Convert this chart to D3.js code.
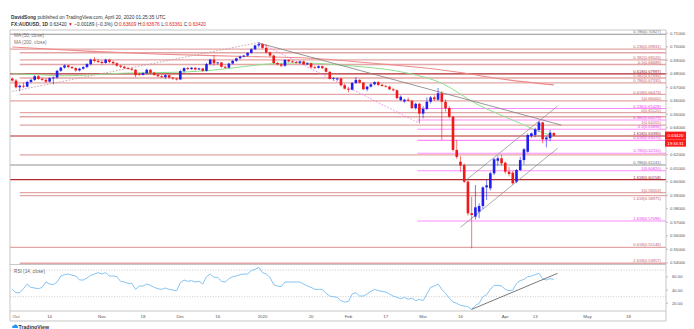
<!DOCTYPE html>
<html><head><meta charset="utf-8">
<script src="https://cdn.jsdelivr.net/npm/d3@7"></script>
<style>
body{margin:0;background:#fff;}
svg{display:block;font-family:"Liberation Sans",Arial,sans-serif;}
</style>
</head><body>
<svg id="c" width="694" height="329"></svg>
<script>
// ---------- DATA ----------
const firstDay = "2019-09-30";
const lastCalendarDay = "2020-06-30";
const open = [.6765,.6750,.6700,.6712,.6705,.6740,.6755,.6782,.6762,.6755,.6742,.6768,.6772,.6822,.6846,.6862,.6850,.6842,.6825,.6838,.6850,.6872,.6905,.6895,.6888,.6880,.6905,.6888,.6878,.6860,
.6852,.6842,.6838,.6830,.6798,.6792,.6805,.6830,.6808,.6792,.6782,.6775,.6790,.6772,.6765,.6758,.6820,.6842,.6835,.6845,.6832,.6840,.6822,.6872,.6905,.6878,.6884,.6852,.6845,.6876,
.6896,.6915,.6928,.6935,.6955,.6982,.7010,.7020,.6992,.6958,.6935,.6880,.6870,.6860,.6902,.6892,.6886,.6882,.6892,.6870,.6878,.6848,.6844,.6856,.6842,.6815,.6762,.6758,.6765,.6715,
.6690,.6682,.6732,.6755,.6735,.6685,.6705,.6722,.6738,.6718,.6710,.6705,.6685,.6678,.6605,.6595,.6608,.6600,.6545,.6578,.6505,.6540,.6593,.6625,.6608,.6656,.6593,.6547,.6482,.6236,
.6149,.6124,.6001,.5767,.5742,.5779,.5821,.5959,.5952,.6063,.6156,.6174,.6141,.6075,.6067,.6001,.6087,.6161,.6223,.6339,.6347,.6384,.6440,.6315,.6323,.63609];
const high = [.6775,.6760,.6720,.6735,.6748,.6762,.6790,.6790,.6772,.6768,.6775,.6780,.6830,.6852,.6870,.6868,.6858,.6850,.6845,.6856,.6878,.6912,.6925,.6910,.6900,.6912,.6912,.6898,.6885,.6866,
.6860,.6852,.6845,.6835,.6808,.6812,.6838,.6835,.6815,.6800,.6790,.6795,.6792,.6778,.6770,.6830,.6848,.6852,.6850,.6848,.6845,.6842,.6880,.6912,.6939,.6888,.6888,.6860,.6882,.6902,
.6920,.6935,.6940,.6960,.6990,.7015,.7032,.7025,.7016,.6965,.6942,.6888,.6878,.6910,.6908,.6900,.6895,.6898,.6898,.6885,.6882,.6858,.6862,.6860,.6848,.6818,.6775,.6772,.6770,.6728,
.6700,.6740,.6775,.6760,.6740,.6712,.6730,.6745,.6745,.6728,.6718,.6712,.6695,.6685,.6640,.6615,.6625,.6608,.6585,.6585,.6560,.6625,.6635,.6640,.6695,.6670,.6610,.6560,.6490,.6310,
.6190,.6135,.6010,.5890,.5976,.5840,.5965,.6013,.6075,.6175,.6190,.6200,.6150,.6110,.6080,.6095,.6185,.6250,.6358,.6365,.6400,.6450,.6445,.6335,.6385,.63676];
const low = [.6742,.6692,.6671,.6695,.6700,.6730,.6748,.6755,.6748,.6732,.6738,.6722,.6765,.6815,.6838,.6840,.6835,.6815,.6818,.6830,.6842,.6862,.6885,.6880,.6868,.6875,.6878,.6868,.6852,.6842,
.6835,.6830,.6822,.6775,.6785,.6788,.6800,.6800,.6785,.6775,.6770,.6765,.6765,.6755,.6750,.6755,.6810,.6828,.6828,.6825,.6828,.6815,.6815,.6865,.6860,.6868,.6845,.6838,.6840,.6870,
.6888,.6908,.6922,.6928,.6948,.6975,.6995,.6985,.6950,.6925,.6872,.6862,.6850,.6852,.6885,.6880,.6875,.6872,.6866,.6865,.6842,.6838,.6840,.6835,.6810,.6758,.6750,.6748,.6705,.6685,
.6662,.6678,.6725,.6728,.6680,.6670,.6698,.6715,.6710,.6705,.6698,.6680,.6670,.6612,.6598,.6585,.6595,.6540,.6535,.6434,.6470,.6530,.6580,.6600,.6600,.6310,.6520,.6470,.6225,.6170,
.6075,.5990,.5750,.5507,.5720,.5730,.5800,.5865,.5935,.6050,.6120,.6120,.6060,.6040,.5980,.5990,.6080,.6130,.6215,.6325,.6330,.6370,.6285,.6255,.6300,.63361];
const close = [.6750,.6700,.6712,.6705,.6740,.6755,.6782,.6762,.6755,.6742,.6768,.6772,.6822,.6846,.6862,.6850,.6842,.6825,.6838,.6850,.6872,.6905,.6895,.6888,.6880,.6905,.6888,.6878,.6860,.6852,
.6842,.6838,.6830,.6790,.6792,.6805,.6830,.6808,.6792,.6782,.6775,.6790,.6772,.6765,.6758,.6820,.6842,.6835,.6845,.6832,.6840,.6822,.6872,.6905,.6878,.6884,.6852,.6845,.6876,.6896,
.6915,.6928,.6935,.6955,.6982,.7010,.7020,.6992,.6958,.6935,.6880,.6870,.6860,.6902,.6892,.6886,.6882,.6892,.6870,.6878,.6848,.6844,.6856,.6842,.6815,.6762,.6768,.6765,.6715,.6690,
.6682,.6732,.6755,.6735,.6685,.6705,.6722,.6738,.6718,.6710,.6705,.6685,.6678,.6620,.6630,.6608,.6600,.6545,.6578,.6505,.6540,.6593,.6625,.6611,.6656,.6593,.6544,.6482,.6236,.6184,
.6120,.6001,.5767,.5754,.5811,.5821,.5959,.5974,.6063,.6167,.6174,.6137,.6075,.6058,.5989,.6087,.6161,.6241,.6347,.6359,.6389,.6440,.6315,.6328,.6364,.63420];
const rsi = [41,36,36,42,49,44,43,42,44,52,49,48,52,61,63,64,62,61,55,55,58,62,64,66,64,66,61,61,60,53,
52,50,50,41,46,46,49,47,44,42,41,43,41,40,39,51,55,53,54,52,53,49,60,64,59,59,53,52,57,60,
61,63,64,64,69,71,74,66,64,59,48,46,45,52,52,52,52,52,49,46,44,41,41,41,35,31,30,29,24,22,
23,34,36,31,31,34,38,41,39,38,37,34,31,29,27,29,26,28,24,26,24,34,44,46,49,41,35,28,22,20,
17,16,15,11,17,20,30,33,41,47,47,46,41,39,40,50,54,56,60,61,63,65,57,55,57,56];

const ma50Dates  = ["2019-09-30","2019-10-10","2019-10-18","2019-11-11","2019-12-02","2019-12-13","2019-12-25","2020-01-02","2020-01-15","2020-02-04","2020-02-25","2020-03-09","2020-03-20","2020-04-07","2020-04-13","2020-04-20"];
const ma50Values = [.6800,.6792,.6785,.6805,.6812,.6828,.6853,.6872,.6880,.6858,.6804,.6730,.6581,.6433,.6384,.6339];
const ma200Dates  = ["2019-09-30","2019-10-28","2019-11-25","2019-12-23","2020-01-20","2020-02-17","2020-03-02","2020-03-16","2020-03-30","2020-04-20"];
const ma200Values = [.6998,.6968,.6945,.6930,.6915,.6870,.6845,.6810,.6765,.6718];

// trend lines: [startDate, startValue, endDate, endValue]
const supportDotted = ["2019-09-30",.6670,"2019-12-31",.7032];
const peakToLowDotted = ["2019-12-31",.7032,"2020-02-28",.6434];
const fallingTrend = ["2019-12-31",.7028,"2020-04-22",.6420];
const channelUpper = ["2020-03-17",.6001,"2020-04-21",.6561];
const channelLower = ["2020-03-16",.5663,"2020-04-21",.6248];
const rsiTrend = ["2020-03-19",11,"2020-04-21",65];

// horizontal Fibonacci levels
const levelPrices = [.70927,.69831,.6956,.69026,.68689,.67997,.67690,.67335,.66473,.66000,.65428,.65120,.6482,.64579,.64205,.63896,.63390,.63070,.62110,.6199,.61241,.60820,.60158,.59203,.58975,.57096,.55146,.53957];
const levelLabels = ["0.786(0.70927)","0.236(0.69831)","","0.382(0.69026)","0.5(0.68689)","0.618(0.67997)","0.382(0.67690)","0.786(0.67335)","0.618(0.66473)","1(0.66000)","0.236(0.65428)","0(0.65120)","","0.382(0.64579)","1(0.64205)","0.5(0.63896)","1.618(0.63390)","0.618(0.63070)","0.786(0.62110)","","0.786(0.61241)","1(0.60820)","1.618(0.60158)","1(0.59203)","1.618(0.58975)","1.618(0.57096)","0.618(0.55146)","2.618(0.53957)"];
const levelKinds  = ["gray","red","red","red","red","dark","red","red","red","red","mag","red","red","mag","red","mag","dark","mag","mag","red","gray","mag","dark","red","red","mag","red","red"];
const levelStarts = ["L","L","A","A","A","L","A","L","A","L","F","A","A","F","A","F","L","F","F","A","L","F","L","A","A","F","L","A"];
const levelLabelSide = ["a","a","a","a","a","a","a","a","a","a","a","a","a","a","a","a","a","a","a","a","a","a","a","a","b","a","a","a"];

const priceTicks = [0.54,0.55,0.56,0.57,0.58,0.59,0.60,0.61,0.62,0.64,0.65,0.66,0.67,0.68,0.69,0.70,0.71];
const rsiTicks = [20,40,60];
const rsiBands = [70,30];
const timeTicks = [["Oct","2019-10-01"],["14","2019-10-14"],["Nov","2019-11-01"],["18","2019-11-18"],["Dec","2019-12-02"],["16","2019-12-16"],["2020","2020-01-01"],["20","2020-01-20"],["Feb","2020-02-03"],["17","2020-02-17"],["Mar","2020-03-02"],["16","2020-03-16"],["Apr","2020-04-01"],["13","2020-04-13"],["May","2020-05-01"],["18","2020-05-18"]];
const lastPrice = 0.63420, countdown = "19:34:31";

// ---------- LAYOUT ----------
const L = 10, R = 666, T = 30, MB = 264.5, RB = 311;
const parse = d3.timeParse("%Y-%m-%d"), fmt = d3.timeFormat("%Y-%m-%d");
const days = d3.timeDay.range(parse(firstDay), parse(lastCalendarDay)).filter(d => d.getDay() !== 0 && d.getDay() !== 6);
const dayIndex = new Map(days.map((d, i) => [fmt(d), i]));
const xi = d3.scaleLinear().domain([0, 145]).range([12.27, 553.85]);
const xd = s => xi(dayIndex.get(s));
const y = d3.scaleLinear().domain([0.54, 0.71]).range([262.8, 33.3]);
const ry = d3.scaleLinear().domain([30, 70]).range([296.7, 270]);

const svg = d3.select("#c");
const defs = svg.append("defs");
defs.append("clipPath").attr("id", "cm").append("rect").attr("x", L).attr("y", T).attr("width", R - L).attr("height", MB - T);
defs.append("clipPath").attr("id", "cr").append("rect").attr("x", L).attr("y", MB).attr("width", R - L).attr("height", RB - MB);

// header
const h1 = svg.append("text").attr("x", 11).attr("y", 19).attr("font-size", 4.8).attr("fill", "#333");
h1.append("tspan").attr("font-weight", "bold").text("DavidSong");
h1.append("tspan").text(" published on TradingView.com, April 20, 2020 01:25:35 UTC");
const h2 = svg.append("text").attr("x", 11).attr("y", 26).attr("font-size", 4.8).attr("fill", "#333");
h2.append("tspan").attr("font-weight", "bold").text("FX:AUDUSD, 1D ");
h2.append("tspan").text("0.63420 ");
h2.append("tspan").attr("fill", "#e0201b").text("\u25BC");
h2.append("tspan").text(" \u22120.00189 (\u22120.3%) O:");
h2.append("tspan").attr("fill", "#e0201b").text("0.63609");
h2.append("tspan").text(" H:");
h2.append("tspan").attr("fill", "#e0201b").text("0.63676");
h2.append("tspan").text(" L:");
h2.append("tspan").attr("fill", "#e0201b").text("0.63361");
h2.append("tspan").text(" C:");
h2.append("tspan").attr("fill", "#e0201b").text("0.63420");

// main panel
const gm = svg.append("g").attr("clip-path", "url(#cm)");
const kindColor = {gray: "#8f8f8f", red: "#e3a6a6", dark: "#b3282d", mag: "#ff8cff"};
const kindText = {gray: "#6b6b6b", red: "#c46464", dark: "#a01c22", mag: "#e33fe3"};
const startX = {L: L, A: xd("2019-10-02"), F: xd("2020-02-28") - 2};
const lineG = gm.append("g");
const labelG = gm.append("g");
levelPrices.forEach((p, i) => {
  const k = levelKinds[i];
  lineG.append("line").attr("x1", startX[levelStarts[i]]).attr("x2", R).attr("y1", y(p)).attr("y2", y(p))
    .attr("stroke", kindColor[k]).attr("stroke-width", i === levelPrices.length - 1 ? 1.8 : (k === "red" ? 1.3 : 1.1));
  if (levelLabels[i]) labelG.append("text").attr("x", 661)
    .attr("y", levelLabelSide[i] === "b" ? y(p) + 4.0 : y(p) - 0.9).attr("text-anchor", "end")
    .attr("font-size", 4.1).attr("fill", kindText[k]).text(levelLabels[i]);
});

// moving averages
const lineGen = d3.line().x(d => xd(d[0])).y(d => y(d[1])).curve(d3.curveMonotoneX);
gm.append("path").attr("d", lineGen(ma200Dates.map((d, i) => [d, ma200Values[i]]))).attr("fill", "none").attr("stroke", "#ef8a8a").attr("stroke-width", 1.1);
gm.append("path").attr("d", lineGen(ma50Dates.map((d, i) => [d, ma50Values[i]]))).attr("fill", "none").attr("stroke", "#8fe08f").attr("stroke-width", 1);

// trend lines
function seg(g, t, yy, color, w, dash) {
  g.append("line").attr("x1", xd(t[0])).attr("y1", yy(t[1])).attr("x2", xd(t[2])).attr("y2", yy(t[3]))
    .attr("stroke", color).attr("stroke-width", w).attr("stroke-dasharray", dash || null);
}
seg(gm, supportDotted, y, "#c79ea6", 0.9, "1.6,1.6");
seg(gm, peakToLowDotted, y, "#ee86ee", 0.9, "1.6,1.6");
seg(gm, fallingTrend, y, "#7d7d7d", 0.8);
seg(gm, channelUpper, y, "#8a8a8a", 0.7);
seg(gm, channelLower, y, "#8a8a8a", 0.7);

// candles
const up = "#1f1ff0", dn = "#f01818";
const bw = 2.6;
const cg = gm.append("g");
open.forEach((o, i) => {
  const c = close[i], col = c >= o ? up : dn, cx = xi(i);
  cg.append("line").attr("x1", cx).attr("x2", cx).attr("y1", y(high[i])).attr("y2", y(low[i]))
    .attr("stroke", col).attr("stroke-width", 0.8).attr("stroke-opacity", 0.75);
  const top = y(Math.max(o, c)), bot = y(Math.min(o, c));
  cg.append("rect").attr("x", cx - bw / 2).attr("y", top).attr("width", bw).attr("height", Math.max(0.8, bot - top)).attr("fill", col);
});

// legend
svg.append("text").attr("x", 14).attr("y", 36.5).attr("font-size", 4.7).attr("fill", "#777").text("MA (50, close)");
svg.append("text").attr("x", 14).attr("y", 43.5).attr("font-size", 4.7).attr("fill", "#777").text("MA (200, close)");

// RSI panel
const gr = svg.append("g").attr("clip-path", "url(#cr)");
rsiBands.forEach(v => gr.append("line").attr("x1", L).attr("x2", R).attr("y1", ry(v)).attr("y2", ry(v))
  .attr("stroke", "#aaa").attr("stroke-width", 0.6).attr("stroke-dasharray", "1,1.6"));
gr.append("path").attr("d", d3.line().x((d, i) => xi(i)).y(d => ry(d))(rsi)).attr("fill", "none").attr("stroke", "#86c3f2").attr("stroke-width", 1);
seg(gr, rsiTrend, ry, "#555", 0.8);
svg.append("text").attr("x", 14).attr("y", 272.5).attr("font-size", 4.7).attr("fill", "#666").text("RSI (14, close)");

// frame
const fr = svg.append("g").attr("stroke", "#b9b9b9").attr("stroke-width", 0.8);
fr.append("line").attr("x1", L).attr("x2", R).attr("y1", T).attr("y2", T);
fr.append("line").attr("x1", L).attr("x2", L).attr("y1", T).attr("y2", 321);
fr.append("line").attr("x1", R).attr("x2", R).attr("y1", T).attr("y2", 321);
fr.append("line").attr("x1", L).attr("x2", R).attr("y1", MB).attr("y2", MB);
fr.append("line").attr("x1", L).attr("x2", R).attr("y1", RB).attr("y2", RB);
fr.append("line").attr("x1", L).attr("x2", R).attr("y1", 321).attr("y2", 321);

// price axis
priceTicks.forEach(p => {
  svg.append("line").attr("x1", R).attr("x2", R + 2).attr("y1", y(p)).attr("y2", y(p)).attr("stroke", "#999").attr("stroke-width", 0.6);
  svg.append("text").attr("x", 670).attr("y", y(p) + 1.5).attr("font-size", 4.2).attr("fill", "#555").text(d3.format(".5f")(p));
});
rsiTicks.forEach(v => {
  svg.append("line").attr("x1", R).attr("x2", R + 2).attr("y1", ry(v)).attr("y2", ry(v)).attr("stroke", "#999").attr("stroke-width", 0.6);
  svg.append("text").attr("x", 672).attr("y", ry(v) + 1.5).attr("font-size", 4.2).attr("fill", "#555").text(d3.format(".2f")(v));
});
// last price tag
const ty = y(lastPrice);
svg.append("rect").attr("x", R - 1).attr("y", ty - 4).attr("width", 21).attr("height", 8).attr("fill", "#ff1a1a");
svg.append("text").attr("x", R + 9.5).attr("y", ty + 1.6).attr("text-anchor", "middle").attr("font-size", 4.4).attr("fill", "#fff").text(d3.format(".5f")(lastPrice));
svg.append("rect").attr("x", R - 1).attr("y", ty + 4).attr("width", 21).attr("height", 7).attr("fill", "#ff1a1a");
svg.append("text").attr("x", R + 9.5).attr("y", ty + 9).attr("text-anchor", "middle").attr("font-size", 4.2).attr("fill", "#fff").text(countdown);

// time axis
timeTicks.forEach(t => {
  svg.append("text").attr("x", xd(t[1])).attr("y", 318).attr("text-anchor", "middle").attr("font-size", 4.4).attr("fill", "#555").text(t[0]);
});

// TradingView logo
const lg = svg.append("g");
lg.append("path").attr("d", "M12.5,328 a1.6,1.6 0 0 1 1.2,-2.6 a2.2,2.2 0 0 1 3.8,0.6 a1.3,1.3 0 0 1 0.3,2 z").attr("fill", "#2196f3");
lg.append("text").attr("x", 18.5).attr("y", 328.6).attr("font-size", 5.2).attr("font-weight", "bold").attr("fill", "#333").text("TradingView");
</script>
</body></html>
